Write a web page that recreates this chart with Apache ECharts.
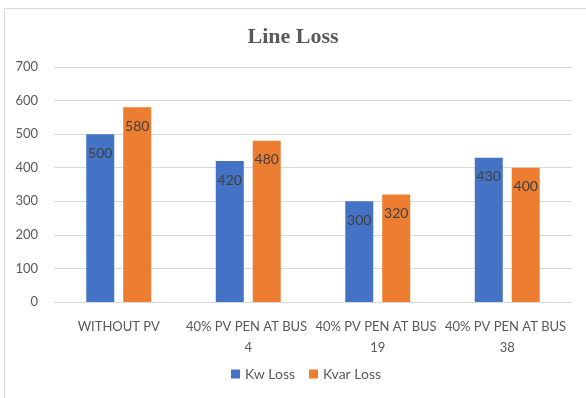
<!DOCTYPE html>
<html>
<head>
<meta charset="utf-8">
<script src="https://cdn.jsdelivr.net/npm/echarts@6/dist/echarts.min.js"></script>
<style>
  html, body { margin: 0; padding: 0; background: #fff; }
  #frame { position: absolute; left: 4px; top: 8px; width: 590px; height: 395px; border: 1px solid #d9d9d9; box-sizing: border-box; }
  #chart { position: absolute; left: 0; top: 0; width: 586px; height: 398px; }
</style>
</head>
<body>
<div id="frame"></div>
<div id="chart"></div>
<script>
// categories and values
var categories = ['WITHOUT PV', '40% PV PEN AT BUS 4', '40% PV PEN AT BUS 19', '40% PV PEN AT BUS 38'];
var kwLoss = [500, 420, 300, 430];
var kvarLoss = [580, 480, 320, 400];

var textColor = '#595959';
var font = 'Lato';

var labelStyle = {
    show: true,
    position: 'insideTop',
    distance: 12,
    color: '#404040',
    fontFamily: font,
    fontSize: 14
};

var option = {
    animation: false,
    title: {
        text: 'Line Loss',
        left: 'center',
        top: 21,
        textStyle: {
            fontFamily: 'Liberation Serif',
            fontWeight: 'bold',
            fontSize: 22,
            color: textColor
        }
    },
    legend: {
        data: ['Kw Loss', 'Kvar Loss'],
        bottom: 12,
        left: 226,
        icon: 'rect',
        itemWidth: 9,
        itemHeight: 9,
        itemGap: 14,
        textStyle: { color: textColor, fontFamily: font, fontSize: 14 }
    },
    grid: {
        left: 54,
        right: 14,
        top: 67,
        bottom: 96
    },
    xAxis: {
        type: 'category',
        data: categories,
        axisTick: { show: false },
        axisLine: { lineStyle: { color: '#d9d9d9' } },
        axisLabel: {
            interval: 0,
            color: textColor,
            fontFamily: font,
            fontSize: 13,
            margin: 14,
            width: 128,
            overflow: 'break',
            lineHeight: 21
        }
    },
    yAxis: {
        type: 'value',
        min: 0,
        max: 700,
        interval: 100,
        axisLine: { show: false },
        axisTick: { show: false },
        splitLine: { lineStyle: { color: '#d9d9d9' } },
        axisLabel: { color: textColor, fontFamily: font, fontSize: 13, margin: 16 }
    },
    series: [
        {
            name: 'Kw Loss',
            type: 'bar',
            data: kwLoss,
            barWidth: 28,
            barGap: '32%',
            itemStyle: { color: '#4472c4' },
            label: labelStyle
        },
        {
            name: 'Kvar Loss',
            type: 'bar',
            data: kvarLoss,
            barWidth: 28,
            itemStyle: { color: '#ed7d31' },
            label: labelStyle
        }
    ]
};

echarts.init(document.getElementById('chart')).setOption(option);
</script>
</body>
</html>
